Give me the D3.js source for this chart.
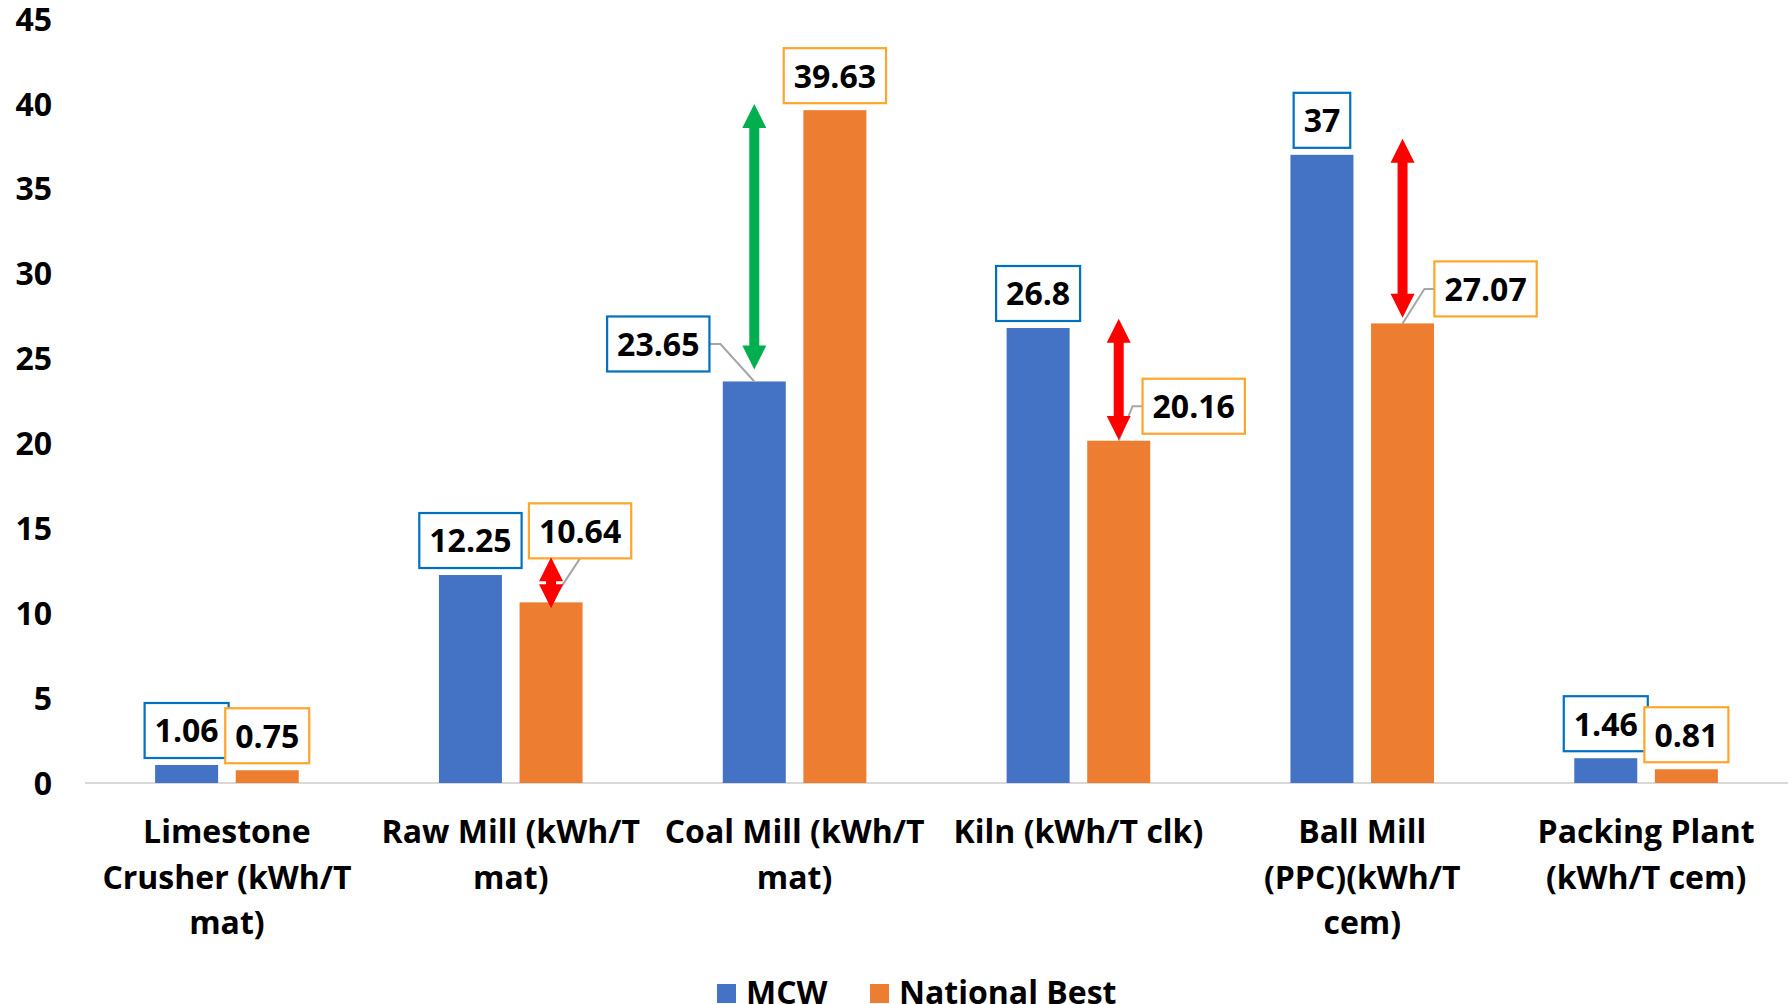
<!DOCTYPE html>
<html>
<head>
<meta charset="utf-8">
<script src="https://cdn.jsdelivr.net/npm/d3@7"></script>
<style>
  html, body { margin: 0; padding: 0; background: #fff; }
  svg { display: block; }
  text { font-family: "Open Sans", "Noto Sans", sans-serif; font-weight: 700; fill: #000; }
</style>
</head>
<body>
<svg id="chart" width="1788" height="1004"></svg>
<script>
// ---------------- DATA ----------------
const categories = [
  ["Limestone", "Crusher (kWh/T", "mat)"],
  ["Raw Mill (kWh/T", "mat)"],
  ["Coal Mill (kWh/T", "mat)"],
  ["Kiln (kWh/T clk)"],
  ["Ball Mill", "(PPC)(kWh/T", "cem)"],
  ["Packing Plant", "(kWh/T cem)"]
];
const seriesNames = ["MCW", "National Best"];
const mcw = [1.06, 12.25, 23.65, 26.8, 37, 1.46];
const nationalBest = [0.75, 10.64, 39.63, 20.16, 27.07, 0.81];
const labelsMcw = ["1.06", "12.25", "23.65", "26.8", "37", "1.46"];
const labelsNb = ["0.75", "10.64", "39.63", "20.16", "27.07", "0.81"];
const yTicks = [0, 5, 10, 15, 20, 25, 30, 35, 40, 45];
// annotation arrows: category index, series index, from value, to value, kind
const arrowCat = [1, 2, 3, 4];
const arrowSeries = [1, 0, 1, 1];
const arrowTop = [13.3, 40.0, 27.35, 37.95];
const arrowBottom = [10.3, 24.35, 20.2, 27.4];
const arrowKind = ["red", "green", "red", "red"];

// ---------------- LAYOUT / STYLE ----------------
const W = 1788, H = 1004;
const plot = { left: 85, right: 1788, top: 19, bottom: 783 };
const barColors = ["#4472C4", "#ED7D31"];
const boxColors = ["#0070C0", "#FFA52D"];
const arrowColors = { red: "#FF0000", green: "#00B050" };
// manual label moves (pixels) keyed "cat-series"
const labelMoves = { "1-1": [29, -37], "2-0": [-96, -3], "3-1": [75, 0], "4-1": [83, 0] };

const svg = d3.select("#chart");

const catIdx = categories.map((d, i) => i);
const x = d3.scaleBand().domain(catIdx).range([plot.left, plot.right]).padding(0);
const xInner = d3.scaleBand().domain([0, 1]).range([0, x.bandwidth()])
  .paddingInner(0.2184).paddingOuter(0.8697);
const y = d3.scaleLinear().domain([0, 45]).range([plot.bottom, plot.top]);

// Y axis labels
const yAxis = d3.axisLeft(y).tickValues(yTicks).tickSize(0).tickPadding(0);
const yg = svg.append("g").attr("transform", `translate(52,0)`).call(yAxis);
yg.select(".domain").remove();
yg.selectAll("text").attr("font-size", 32).attr("dy", "0.35em")
  .style("font-family", '"Open Sans", sans-serif').style("font-weight", 700).attr("fill", "#000");

// X axis baseline
svg.append("line")
  .attr("x1", plot.left).attr("x2", plot.right)
  .attr("y1", y(0)).attr("y2", y(0))
  .attr("stroke", "#D9D9D9").attr("stroke-width", 2);

// Bars
const values = [mcw, nationalBest];
const labelTexts = [labelsMcw, labelsNb];
const barData = [];
catIdx.forEach(c => {
  [0, 1].forEach(s => barData.push({ c, s, v: values[s][c], t: labelTexts[s][c] }));
});
const bx = d => x(d.c) + xInner(d.s);
svg.append("g").selectAll("rect").data(barData).join("rect")
  .attr("x", bx).attr("width", xInner.bandwidth())
  .attr("y", d => y(d.v)).attr("height", d => y(0) - y(d.v))
  .attr("fill", d => barColors[d.s]);

// Arrows
function arrowPath(cx, yTop, yBot) {
  const hw = 12, hl = 24, sw = 5;
  const hlEff = Math.min(hl, (yBot - yTop) / 2);
  return `M${cx},${yTop} L${cx + hw},${yTop + hlEff} L${cx + sw},${yTop + hlEff}
    L${cx + sw},${yBot - hlEff} L${cx + hw},${yBot - hlEff} L${cx},${yBot}
    L${cx - hw},${yBot - hlEff} L${cx - sw},${yBot - hlEff} L${cx - sw},${yTop + hlEff}
    L${cx - hw},${yTop + hlEff} Z`;
}

// Labels with leader lines
const lblG = svg.append("g");
barData.forEach(d => {
  const cx = bx(d) + xInner.bandwidth() / 2;
  const top = y(d.v);
  const mv = labelMoves[`${d.c}-${d.s}`] || [0, 0];
  const g = lblG.append("g");
  const txt = g.append("text").attr("font-size", 32).attr("text-anchor", "middle").text(d.t);
  const tw = txt.node().getComputedTextLength();
  const bw = tw + 20, bh = 55;
  const bcx = cx + mv[0];
  const by1 = top - 7 + mv[1];
  const by0 = by1 - bh;
  const bx0 = bcx - bw / 2, bx1 = bcx + bw / 2;
  txt.attr("x", bcx).attr("y", by0 + bh / 2).attr("dy", "0.37em");
  g.insert("rect", "text")
    .attr("x", bx0).attr("y", by0).attr("width", bw).attr("height", bh)
    .attr("fill", "#fff").attr("stroke", boxColors[d.s]).attr("stroke-width", 2.2);
  if (mv[0] !== 0 || mv[1] !== 0) {
    let pts;
    const cy = by0 + bh / 2;
    if (cx < bx0) pts = [[bx0, cy], [bx0 - 10, cy], [cx, top]];
    else if (cx > bx1) pts = [[bx1, cy], [bx1 + 11, cy], [cx, top]];
    else pts = [[bcx, by1], [cx, top]];
    lblG.insert("path", ":first-child")
      .attr("d", d3.line()(pts)).attr("fill", "none")
      .attr("stroke", "#A6A6A6").attr("stroke-width", 2);
  }
});

// draw arrows above leader lines
svg.append("g").selectAll("path").data(arrowCat.map((c, i) => i)).join("path")
  .attr("d", i => {
    const cx = x(arrowCat[i]) + xInner(arrowSeries[i]) + xInner.bandwidth() / 2;
    return arrowPath(cx, y(arrowTop[i]), y(arrowBottom[i]));
  })
  .attr("fill", i => arrowColors[arrowKind[i]]);

// Category labels
const catG = svg.append("g");
categories.forEach((lines, c) => {
  const t = catG.append("text").attr("font-size", 32).attr("text-anchor", "middle")
    .attr("x", x(c) + x.bandwidth() / 2).attr("y", 843);
  lines.forEach((ln, k) => {
    t.append("tspan").attr("x", x(c) + x.bandwidth() / 2).attr("y", 843 + k * 45.6).text(ln);
  });
});

// Legend
const legendX = [717, 870];
const lg = svg.append("g");
seriesNames.forEach((name, i) => {
  lg.append("rect").attr("x", legendX[i]).attr("y", 984).attr("width", 19).attr("height", 19)
    .attr("fill", barColors[i]);
  lg.append("text").attr("x", legendX[i] + 29).attr("y", 1004).attr("font-size", 32).text(name);
});
</script>
</body>
</html>
